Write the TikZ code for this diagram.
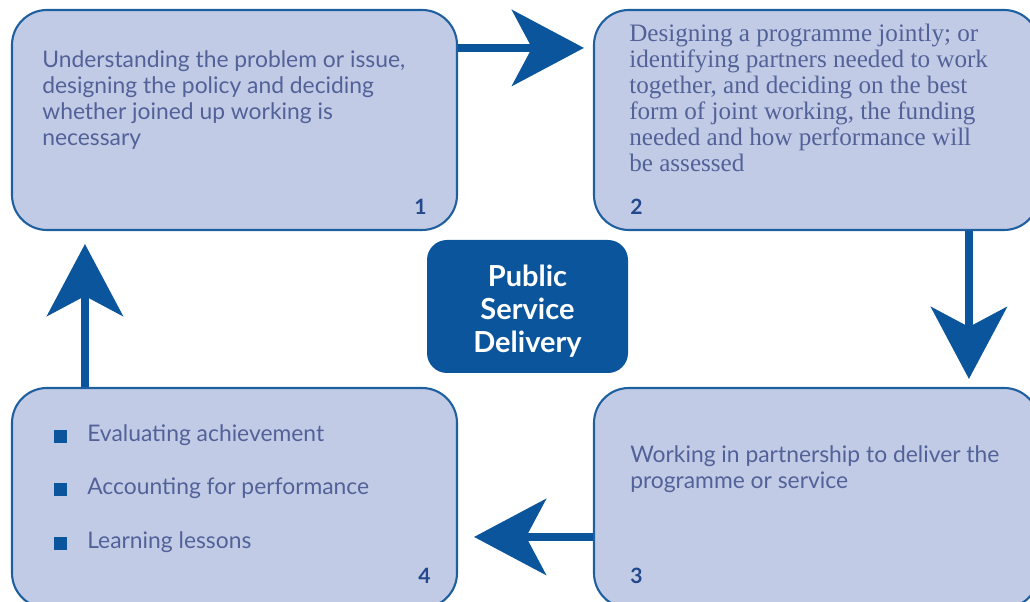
\documentclass[tikz,border=0pt]{standalone}
\usepackage{fontspec}
\setmainfont{Lato}
\newfontfamily\serifbody{Liberation Serif}
\usepackage{xcolor}
\usetikzlibrary{positioning, arrows.meta, calc}

\definecolor{boxfill}{RGB}{194,203,230}
\definecolor{boxline}{RGB}{30,95,160}
\definecolor{flowblue}{RGB}{10,85,155}
\definecolor{bodytext}{RGB}{82,98,152}
\definecolor{numtext}{RGB}{35,72,140}

\begin{document}
\begin{tikzpicture}[
  stagebox/.style={
    rectangle, draw=boxline, fill=boxfill, line width=1.2pt,
    rounded corners=0.7cm, minimum width=8.9cm, minimum height=4.4cm,
    inner sep=0pt
  },
  hubbox/.style={
    rectangle, fill=flowblue, draw=none,
    rounded corners=0.4cm, minimum width=4.02cm, minimum height=2.66cm,
    align=center, text=white, font=\fontsize{16.5}{18.8}\selectfont\bfseries
  },
  stagetext/.style={
    anchor=north west, inner sep=0pt, align=left, text=bodytext,
    font=\fontsize{13}{14.8}\selectfont
  },
  stagenum/.style={
    inner sep=0pt, text=numtext, font=\fontsize{12}{14}\selectfont\bfseries
  },
  flow/.style={
    -{Stealth[length=1.44cm, width=1.52cm, inset=0.4cm]},
    line width=4.5pt, draw=flowblue
  },
]
\useasboundingbox (0,0) rectangle (20.6,12.04);

%% ── Stage boxes ──────────────────────────────────────────────────────────────
\node[stagebox] (plan)    at (4.69, 9.64)  {};
\node[stagebox] (design)  at (16.33, 9.64) {};
\node[stagebox] (deliver) at (16.33, 2.08) {};
\node[stagebox] (review)  at (4.69, 2.08)  {};

\node[hubbox] (hub) at (10.55, 5.91) {\rule{0pt}{0.62cm}Public\\Service\\Delivery};

%% ── Stage texts ──────────────────────────────────────────────────────────────
\node[stagetext] (plantext) at ([shift={(0.62,-0.82)}]plan.north west) {%
  Understanding the problem or issue,\\
  designing the policy and deciding\\
  whether joined up working is\\
  necessary};

\node[stagetext, font=\serifbody\fontsize{14.3}{14.8}\selectfont]
  (designtext) at ([shift={(0.72,-0.29)}]design.north west) {%
  Designing a programme jointly; or\\
  identifying partners needed to work\\
  together, and deciding on the best\\
  form of joint working, the funding\\
  needed and how performance will\\
  be assessed};

\node[stagetext] (delivertext) at ([shift={(0.74,-1.16)}]deliver.north west) {%
  Working in partnership to deliver the\\
  programme or service};

\node[stagetext, anchor=base west] (reviewa) at ([shift={(0.86,-1.10)}]review.north west) {%
  \textcolor{flowblue}{\rule[-0.03cm]{0.26cm}{0.26cm}}\hspace{0.4cm}Evaluating achievement};
\node[stagetext, anchor=base west] (reviewb) at ([shift={(0.86,-2.16)}]review.north west) {%
  \textcolor{flowblue}{\rule[-0.03cm]{0.26cm}{0.26cm}}\hspace{0.4cm}Accounting for performance};
\node[stagetext, anchor=base west] (reviewc) at ([shift={(0.86,-3.24)}]review.north west) {%
  \textcolor{flowblue}{\rule[-0.03cm]{0.26cm}{0.26cm}}\hspace{0.4cm}Learning lessons};

%% ── Stage numbers ────────────────────────────────────────────────────────────
\node[stagenum, anchor=base east] (num1) at ([shift={(-0.62,0.34)}]plan.south east)   {1};
\node[stagenum, anchor=base west] (num2) at ([shift={(0.74,0.34)}]design.south west)  {2};
\node[stagenum, anchor=base west] (num3) at ([shift={(0.74,0.52)}]deliver.south west) {3};
\node[stagenum, anchor=base east] (num4) at ([shift={(-0.54,0.52)}]review.south east) {4};

%% ── Arrows ───────────────────────────────────────────────────────────────────
\draw[flow, shorten >=0.18cm]
  ([yshift=-0.78cm]plan.north east) -- ([yshift=-0.78cm]design.north west);
\draw[flow, shorten >=0.16cm]
  ([xshift=7.52cm]design.south west) -- ([xshift=7.52cm]deliver.north west);
\draw[flow, shorten >=0.32cm]
  ([yshift=-3.0cm]deliver.north west) -- ([yshift=-3.0cm]review.north east);
\draw[flow, shorten >=0.26cm]
  ([xshift=1.48cm]review.north west) -- ([xshift=1.48cm]plan.south west);

\end{tikzpicture}
\end{document}
